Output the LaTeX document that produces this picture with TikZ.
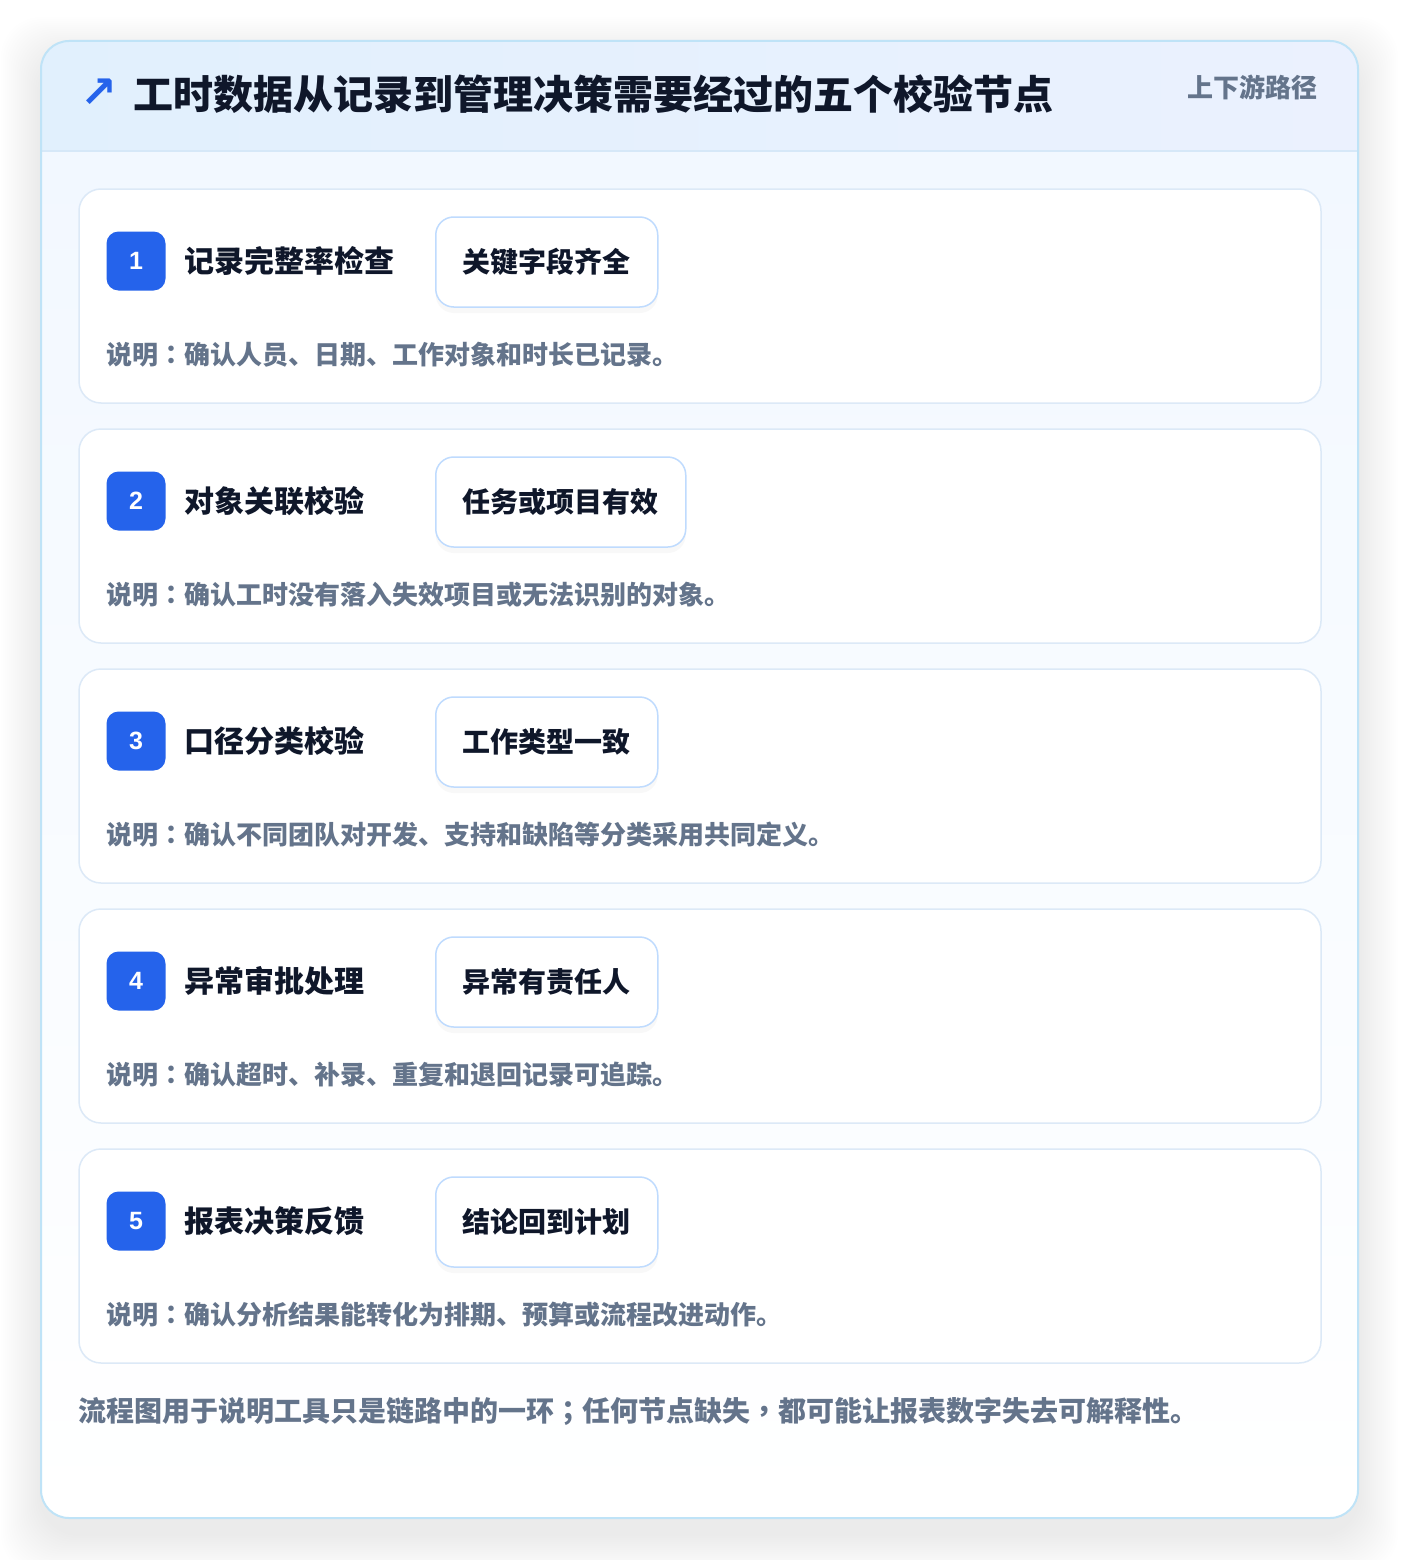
\documentclass[tikz,border=0pt]{standalone}
\usepackage{fontspec}
\setmainfont{Noto Sans CJK SC}
\newfontfamily\tcfont{Noto Sans CJK TC}
\newfontfamily\symfont{DejaVu Sans}
\newfontfamily\digitfont{Liberation Sans}
\usetikzlibrary{positioning,shadows}

\definecolor{inkdark}{HTML}{0F172A}
\definecolor{muted}{HTML}{64748B}
\definecolor{badgeblue}{HTML}{2563EB}
\definecolor{cardline}{HTML}{DCE9F7}
\definecolor{tagline}{HTML}{BFDBFE}
\definecolor{outerline}{HTML}{BFE3F7}
\definecolor{headleft}{HTML}{E1F0FD}
\definecolor{headright}{HTML}{EBF1FE}
\definecolor{headline}{HTML}{D6E8F8}
\definecolor{bodytop}{HTML}{F2F8FF}

% centred full-width punctuation
\newcommand\cpunct[1]{{\tcfont #1}}

\tikzset{
  card/.style={draw=cardline, line width=1.5pt, fill=white, rounded corners=22pt},
  badge/.style={fill=badgeblue, rounded corners=12pt, minimum size=59pt, inner sep=0pt,
    text=white, font=\digitfont\fontsize{25}{28}\selectfont\bfseries},
  steptitle/.style={anchor=west, inner sep=0pt, text=inkdark, font=\fontsize{30}{36}\selectfont\bfseries},
  tagbox/.style={draw=tagline, line width=1.5pt, fill=white, rounded corners=18pt,
    minimum height=90pt, inner xsep=27pt, inner ysep=0pt, anchor=west, text=inkdark,
    font=\fontsize{28}{32}\selectfont\bfseries,
    drop shadow={opacity=0.05, shadow xshift=0pt, shadow yshift=-6pt}},
  desc/.style={anchor=west, inner sep=0pt, text=muted, font=\fontsize{26}{30}\selectfont\bfseries},
}

\begin{document}
\begin{tikzpicture}[x=1pt,y=-1pt]
		\useasboundingbox (0,0) rectangle (1400,1560);
		\fill[white] (0,0) rectangle (1400,1560);
		
		% soft shadow under the panel
		\foreach \k in {1,...,20}
		\fill[black, opacity=0.004, rounded corners=40pt] ({41-\k*2},{41-\k*2+16}) rectangle ({1358+\k*2},{1518+\k*2+16});
		
		% panel
		\begin{scope}
			\clip[rounded corners=28pt] (41,41) rectangle (1358,1518);
			\shade[top color=bodytop, bottom color=white] (41,151) rectangle (1358,1518);
			\shade[left color=headleft, right color=headright] (41,41) rectangle (1358,151);
			\draw[headline, line width=1.5pt] (41,151) -- (1358,151);
		\end{scope}
		\draw[outerline, line width=2pt, rounded corners=28pt] (41,41) rectangle (1358,1518);
		
		% header
		\node[text=badgeblue, font=\symfont\fontsize{44}{48}\selectfont\bfseries, inner sep=0pt] (arrow) at (99,93) {↗};
		\node[anchor=west, inner sep=0pt, text=inkdark, font=\fontsize{40}{46}\selectfont\bfseries] (heading) at (133,94) {工时数据从记录到管理决策需要经过的五个校验节点};
		\node[anchor=east, inner sep=0pt, text=muted, font=\fontsize{26}{30}\selectfont\bfseries] (route) at (1318,87) {上下游路径};
		
		% five check steps
		\foreach \n/\ttl/\tg/\dsc [count=\i from 0] in {
			1/记录完整率检查/关键字段齐全/确认人员、日期、工作对象和时长已记录。,
			2/对象关联校验/任务或项目有效/确认工时没有落入失效项目或无法识别的对象。,
			3/口径分类校验/工作类型一致/确认不同团队对开发、支持和缺陷等分类采用共同定义。,
			4/异常审批处理/异常有责任人/确认超时、补录、重复和退回记录可追踪。,
			5/报表决策反馈/结论回到计划/确认分析结果能转化为排期、预算或流程改进动作。}
		{
			\pgfmathsetmacro\cardtop{189+240*\i}
			\draw[card] (79,\cardtop) rectangle (1321,\cardtop+214);
			\node[badge] (badge\n) at (136,\cardtop+72) {\n};
			\node[steptitle, right=18.5pt of badge\n] (title\n) {\ttl};
			\node[tagbox] (tag\n) at (435,\cardtop+73) {\tg};
			\node[desc] (desc\n) at (106,\cardtop+166) {说明\cpunct{：}\dsc};
		}
		
		% closing remark
		\node[anchor=west, inner sep=0pt, text=muted, font=\fontsize{28}{32}\selectfont\bfseries] (remark) at (78,1411) {流程图用于说明工具只是链路中的一环\cpunct{；}任何节点缺失\cpunct{，}都可能让报表数字失去可解释性。};
	\end{tikzpicture}
\end{document}
